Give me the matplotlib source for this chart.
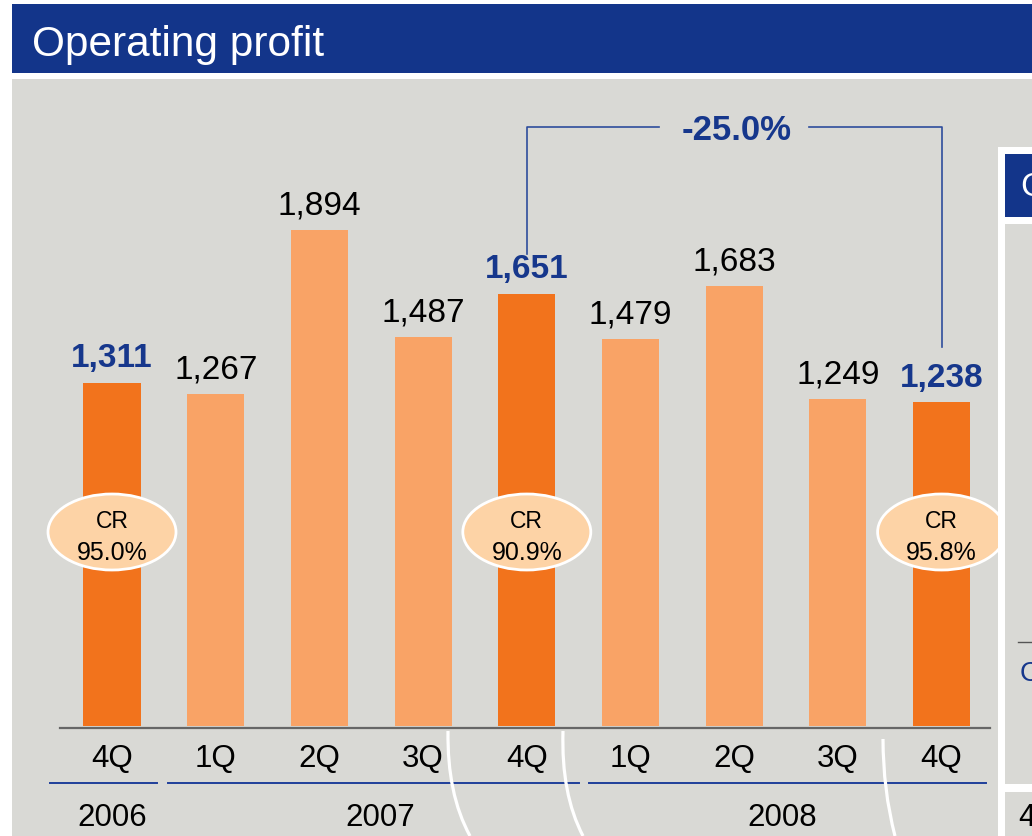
import matplotlib
matplotlib.use("Agg")
import matplotlib.pyplot as plt
from matplotlib.patches import Rectangle, Ellipse, PathPatch
from matplotlib.path import Path

# data
quarters = ["4Q", "1Q", "2Q", "3Q", "4Q", "1Q", "2Q", "3Q", "4Q"]
profit = [1311, 1267, 1894, 1487, 1651, 1479, 1683, 1249, 1238]
highlight = [True, False, False, False, True, False, False, False, True]
years = ["2006", "2007", "2008"]
cr_labels = {0: "95.0%", 4: "90.9%", 8: "95.8%"}
change_label = "-25.0%"

W, H = 1032, 837
DARK = "#F2731C"
LIGHT = "#F9A366"
BLUE = "#16378C"
GREY = "#D9D9D5"

# layout (pixels)
X0, STEP = 112, 103.7
BASE, SCALE = 727, 0.2617
year_x = [112, 380, 782]
underlines = [(50, 157), (168, 579), (589, 986)]


def xv(px):
    return (px - X0) / STEP


def yv(py):
    return (BASE - py) / SCALE


plt.rcParams['font.family'] = ['Liberation Sans', 'DejaVu Sans']
fig = plt.figure(figsize=(W / 100, H / 100), dpi=100)
fig.patch.set_facecolor("white")

# backgrounds
fig.patches.append(Rectangle((12 / W, 1 - 74 / H), (W - 12) / W, 69 / H,
                             transform=fig.transFigure, color="#13358A", zorder=-5, lw=0))
fig.patches.append(Rectangle((12 / W, 0), (W - 12) / W, (H - 80) / H,
                             transform=fig.transFigure, color=GREY, zorder=-5, lw=0))
fig.text(32 / W, 1 - 56 / H, "Operating profit", color="white", fontsize=30.5,
         va="baseline", ha="left")

ax = fig.add_axes([12 / W, 0, (998 - 12) / W, (H - 80) / H])
ax.set_xlim(xv(12), xv(998))
ax.set_ylim(yv(H), yv(80))
ax.patch.set_alpha(0)
ax.axis("off")

idx = list(range(len(profit)))
colors = [DARK if h else LIGHT for h in highlight]
ax.bar(idx, profit, width=0.55, color=colors, zorder=2)
ax.plot([xv(60), xv(990)], [yv(729), yv(729)], color="#666666", lw=1.6, zorder=3)

for i, v in enumerate(profit):
    ax.annotate(f"{v:,}", (i, v), xytext=(0, 16.5 * 0.72), textcoords="offset points",
                ha="center", va="baseline", fontsize=24,
                color=BLUE if highlight[i] else "black",
                fontweight="bold" if highlight[i] else "normal")
    ax.text(i, yv(767), quarters[i], ha="center", va="baseline", fontsize=22.5)

for i, lab in cr_labels.items():
    ax.add_patch(Ellipse((i, yv(533)), 128 / STEP, 76 / SCALE, facecolor="#FDD3A6",
                         edgecolor="white", lw=2, zorder=4))
    ax.text(i, yv(528), "CR", ha="center", va="baseline", fontsize=16.5, zorder=5)
    ax.text(i, yv(560), lab, ha="center", va="baseline", fontsize=18, zorder=5)

# year labels and underlines
for yr, yx, (ux1, ux2) in zip(years, year_x, underlines):
    ax.plot([xv(ux1), xv(ux2)], [yv(784), yv(784)], color="#1F3F9A", lw=1.4)
    ax.text(xv(yx), yv(826), yr, ha="center", va="baseline", fontsize=22.5)

# change bracket
a, b = 4, 8
top = yv(128)
mid = (a + b) / 2
gap = 75 / STEP
lc = "#2E4D9C"
ax.plot([a, a, mid - gap], [yv(255), top, top], color=lc, lw=1.2, zorder=3)
ax.plot([mid + gap, b, b], [top, top, yv(348)], color=lc, lw=1.2, zorder=3)
ax.text(mid + 0.02, yv(140), change_label, ha="center", va="baseline", fontsize=25,
        fontweight="bold", color=BLUE)

# overlay in pixel coords
ov = fig.add_axes([0, 0, 1, 1])
ov.set_xlim(0, W)
ov.set_ylim(H, 0)
ov.patch.set_alpha(0)
ov.axis("off")
arcs = [((448, 732), (447, 795), (470, 837)),
        ((563, 732), (561, 795), (583, 837)),
        ((883, 740), (883, 791), (895, 837))]
for p0, c, p2 in arcs:
    path = Path([p0, c, p2], [Path.MOVETO, Path.CURVE3, Path.CURVE3])
    ov.add_patch(PathPatch(path, facecolor="none", edgecolor="white", lw=2.3))

# partial side panel on the right
for x1, y1, x2, y2, col in [(998, 148, W, H, "white"),
                            (1005, 155, W, 218, "#13358A"),
                            (1005, 225, W, 785, GREY),
                            (1005, 793, W, H, GREY)]:
    ov.add_patch(Rectangle((x1, y1), x2 - x1, y2 - y1, color=col, lw=0))
ov.plot([1018, W], [643, 643], color="#555555", lw=1)
ov.text(1020, 196, "C", color="white", fontsize=24, va="baseline")
ov.text(1020, 681, "C", color=BLUE, fontsize=20, va="baseline")
ov.text(1018, 826, "4", color="black", fontsize=22, va="baseline")

fig.savefig("out.png", dpi=100)
